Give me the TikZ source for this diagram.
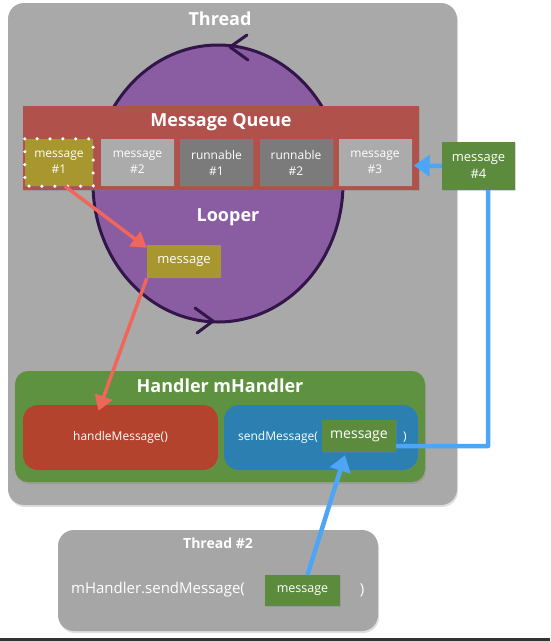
\documentclass[tikz,border=0pt]{standalone}
\usepackage{fontspec}
\setmainfont{Open Sans}
\usetikzlibrary{arrows.meta,shadows,shapes.geometric}
\definecolor{thrgray}{HTML}{A9A9A9}
\definecolor{lpurple}{HTML}{8A5CA2}
\definecolor{dpurple}{HTML}{331649}
\definecolor{mqred}{HTML}{B0514C}
\definecolor{cellgray}{HTML}{ABABAB}
\definecolor{celldark}{HTML}{7B7B7B}
\definecolor{olive}{HTML}{A8962F}
\definecolor{msggreen}{HTML}{5C8B3E}
\definecolor{hgreen}{HTML}{5E9241}
\definecolor{hred}{HTML}{B4432D}
\definecolor{hblue}{HTML}{2B80B1}
\definecolor{arrred}{HTML}{F0665A}
\definecolor{arrblue}{HTML}{4DA6F5}
\tikzset{
  panel/.style={fill=thrgray, rounded corners=16pt, inner sep=0pt,
    drop shadow={shadow xshift=1pt, shadow yshift=-2pt, opacity=.25}},
  cell/.style={text=white, inner sep=0pt, minimum width=73pt, minimum height=47pt,
    align=center, font=\fontsize{12}{16}\selectfont,
    drop shadow={shadow xshift=1pt, shadow yshift=-1pt, opacity=.3}},
  msgbox/.style={fill=msggreen, text=white, inner sep=0pt, minimum width=74pt,
    drop shadow={shadow xshift=1pt, shadow yshift=-1pt, opacity=.3}},
  title/.style={text=white, font=\bfseries\fontsize{18}{20}\selectfont},
  wlabel/.style={text=white, inner sep=0pt},
  redarrow/.style={draw=arrred, line width=3.5pt, -{Triangle[length=15pt,width=18pt]}},
  bluearrow/.style={draw=arrblue, line width=4.5pt, -{Triangle[length=16pt,width=21pt]}},
  blueline/.style={draw=arrblue, line width=4.5pt},
  chev/.style={draw=dpurple, line width=3pt, line cap=round, line join=round},
}
\begin{document}
\begin{tikzpicture}[x=1pt,y=-1pt]
\useasboundingbox (0,0) rectangle (550,641);
\fill[white] (0,0) rectangle (550,641);
\fill[black!80] (0,638) rectangle (550,641);
% main thread
\node[panel, minimum width=449pt, minimum height=502pt] (thread) at (232.5,254) {};
\node[title] (threadlbl) at (220,19) {Thread};
% looper circle
\node[ellipse, fill=lpurple, draw=dpurple, line width=3pt, minimum width=250pt, minimum height=277pt, inner sep=0pt] (loop) at (218,183.5) {};
\draw[chev] (247,35) -- (230,47) -- (248,60);
\draw[chev] (195,308) -- (213,321) -- (197,333);
% message queue
\node[fill=mqred, minimum width=396pt, minimum height=84pt, inner sep=0pt,
  drop shadow={shadow xshift=1pt, shadow yshift=-1pt, opacity=.3}] (mq) at (221,148) {};
\node[title] (mqlbl) at (221,122) {Message Queue};
\node[cell, fill=olive, minimum width=68pt] (c1) at (59,162.5) {message\\\#1};
\draw[white, line width=3.5pt, line cap=round, dash pattern=on 0pt off 12.9pt] (c1.north west) rectangle (c1.south east);
\node[cell, fill=cellgray] (c2) at (137.5,162.5) {message\\\#2};
\node[cell, fill=celldark] (c3) at (216.5,162.5) {runnable\\\#1};
\node[cell, fill=celldark] (c4) at (296,162.5) {runnable\\\#2};
\node[cell, fill=cellgray] (c5) at (375,162.5) {message\\\#3};
\node[cell, fill=msggreen, minimum height=48pt, font=\fontsize{13}{17}\selectfont] (m4) at (478.5,166) {message\\\#4};
% looper
\node[title] (looperlbl) at (228,217) {Looper};
\node[cell, fill=olive, minimum width=74pt, minimum height=33pt, font=\fontsize{13}{16}\selectfont] (lmsg) at (184,261.5) {message};
% handler
\node[fill=hgreen, rounded corners=13pt, minimum width=410pt, minimum height=111pt, inner sep=0pt,
  drop shadow={shadow xshift=1pt, shadow yshift=-2pt, opacity=.3}] (handler) at (220,426.5) {};
\node[title] (handlerlbl) at (220,386) {Handler mHandler};
\node[fill=hred, rounded corners=15pt, minimum width=195pt, minimum height=65pt, inner sep=0pt,
  text=white, font=\fontsize{12}{14}\selectfont,
  drop shadow={shadow xshift=1pt, shadow yshift=-1pt, opacity=.3}] (hm) at (120.5,437.5) {handleMessage()};
\node[fill=hblue, rounded corners=15pt, minimum width=194pt, minimum height=65pt, inner sep=0pt,
  drop shadow={shadow xshift=1pt, shadow yshift=-1pt, opacity=.3}] (sm) at (321,437.5) {};
\node[wlabel, font=\fontsize{12}{14}\selectfont] (smtxt) at (278,437) {sendMessage(};
\node[msgbox, minimum height=32pt, font=\fontsize{14}{16}\selectfont] (smsg) at (359,436) {message};
\node[wlabel, font=\fontsize{12}{14}\selectfont] (smclose) at (405,437) {)};
% thread 2
\node[panel, fill=thrgray!98!black, minimum width=320pt, minimum height=101pt] (thread2) at (218,580.5) {};
\node[wlabel, font=\bfseries\fontsize{14}{16}\selectfont] (t2lbl) at (218,543) {Thread \#2};
\node[wlabel, font=\fontsize{15}{17}\selectfont] (t2txt) at (158,590) {mHandler.sendMessage(};
\node[msgbox, minimum width=75pt, minimum height=31pt, font=\fontsize{12.5}{15}\selectfont] (t2msg) at (302.5,590.5) {message};
\node[wlabel, font=\fontsize{15}{17}\selectfont] (t2close) at (362,590) {)};
% arrows
\draw[redarrow] ([xshift=6pt]c1.south) -- ([yshift=-3pt]lmsg.north west);
\draw[redarrow] (lmsg.south west) -- ([xshift=-22pt,yshift=-6pt]hm.north);
\draw[blueline, line join=round] ([yshift=-10pt]smsg.east) -- ([yshift=-10pt, xshift=92pt]smsg.east) -- ([xshift=9.5pt]m4.south);
\draw[bluearrow] (m4.west) -- ([xshift=2pt,yshift=-3pt]c5.east);
\draw[bluearrow] ([xshift=5pt]t2msg.north) -- ([xshift=-14pt,yshift=-3pt]smsg.south);
\end{tikzpicture}
\end{document}
